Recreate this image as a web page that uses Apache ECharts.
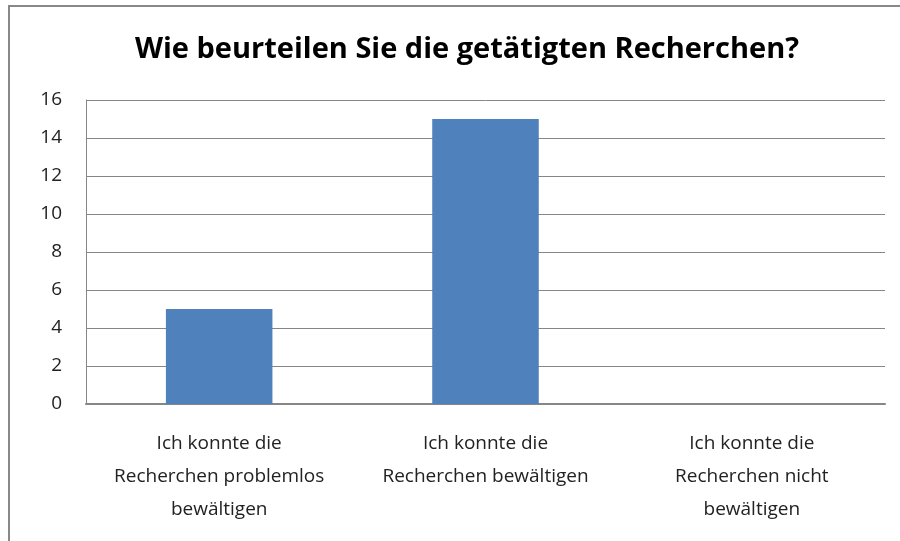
<!DOCTYPE html>
<html>
<head>
<meta charset="utf-8">
<script src="https://cdn.jsdelivr.net/npm/echarts@6/dist/echarts.min.js"></script>
<style>
html,body{margin:0;padding:0;background:#fff;overflow:hidden;}
#main{position:absolute;left:0;top:0;width:900px;height:541px;}
#rahmen{position:absolute;left:8px;top:5px;width:950px;height:600px;border:2px solid #888;pointer-events:none;}
</style>
</head>
<body>
<div id="main"></div>
<div id="rahmen"></div>
<script>
var titel = 'Wie beurteilen Sie die getätigten Recherchen?';
var kategorien = [
	'Ich konnte die\nRecherchen problemlos\nbewältigen',
	'Ich konnte die\nRecherchen bewältigen',
	'Ich konnte die\nRecherchen nicht\nbewältigen'
];
var werte = [5, 15, 0];

var myChart = echarts.init(document.getElementById('main'));
var option = {
	animation: false,
	title: {
		text: titel,
		left: 462,
		textAlign: 'center',
		top: 30,
		textStyle: {
			fontFamily: 'Open Sans',
			fontSize: 29,
			fontWeight: 'bold',
			color: '#000'
		}
	},
	grid: {
		left: 86,
		right: 15,
		top: 100,
		bottom: 137
	},
	xAxis: {
		type: 'category',
		data: kategorien,
		axisTick: {show: false},
		axisLine: {lineStyle: {color: '#868686', width: 2}},
		axisLabel: {
			interval: 0,
			margin: 23,
			fontFamily: 'Open Sans',
			fontSize: 19,
			lineHeight: 33,
			color: '#222'
		}
	},
	yAxis: {
		type: 'value',
		min: 0,
		max: 16,
		interval: 2,
		axisLine: {show: true, lineStyle: {color: '#868686', width: 1}},
		axisTick: {show: false},
		splitLine: {lineStyle: {color: '#868686', width: 1}},
		axisLabel: {
			margin: 24,
			fontFamily: 'Open Sans',
			fontSize: 19,
			color: '#222'
		}
	},
	series: [
		{
			type: 'bar',
			data: werte,
			barWidth: '40%',
			itemStyle: {color: '#4F81BD'}
		}
	]
};
myChart.setOption(option);
</script>
</body>
</html>
